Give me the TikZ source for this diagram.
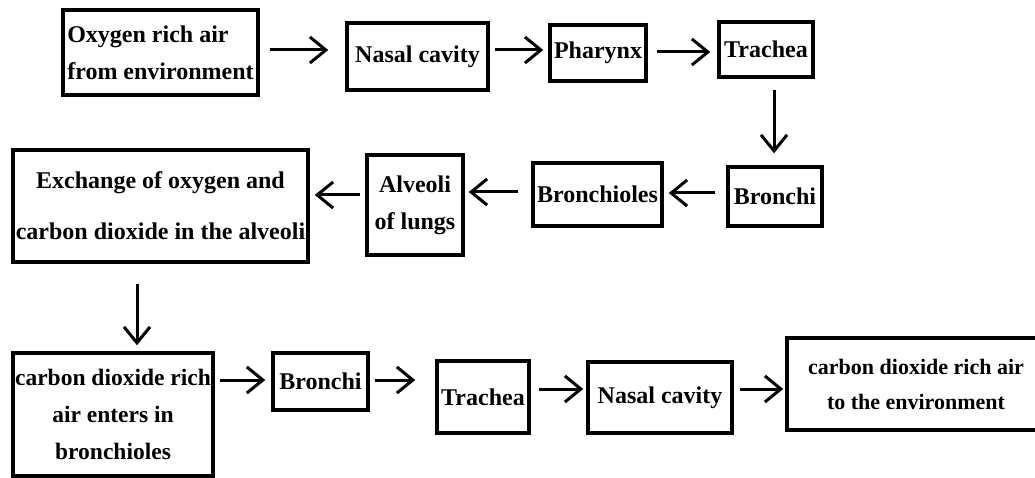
\documentclass[tikz,border=0pt]{standalone}
\usepackage{fontspec}
\setmainfont{Liberation Serif}
\usetikzlibrary{arrows.meta}
\begin{document}
\begin{tikzpicture}[x=1pt,y=-1pt,
  stage/.style={draw=black, line width=3.5pt, fill=white, inner sep=0pt,
    font=\bfseries\fontsize{24}{37}\selectfont, align=center},
  flow/.style={line width=3pt, -{Straight Barb[length=16pt,width=26pt,line width=3pt]}}]
\useasboundingbox (0,0) rectangle (1035,478);
\clip (0,0) rectangle (1035,478);
\fill[white] (0,0) rectangle (1035,478);

% inhalation path, top row
\node[stage, align=left, minimum width=195pt, minimum height=85pt] (air) at (160.5,52.5)
  {Oxygen rich air\\from environment};
\node[stage, minimum width=141pt, minimum height=67pt] (nasal) at (417.5,56.5) {Nasal cavity};
\node[stage, minimum width=96pt, minimum height=56pt] (phar) at (598,53) {Pharynx};
\node[stage, minimum width=94pt, minimum height=55pt] (trach) at (766,49.5) {Trachea};

% middle row, right to left
\node[stage, minimum width=94pt, minimum height=59pt] (bron) at (775,196.5) {Bronchi};
\node[stage, minimum width=129pt, minimum height=63pt] (bronl) at (597.5,194.5) {Bronchioles};
\node[stage, minimum width=96pt, minimum height=100pt] (alv) at (415,205) {Alveoli\\of lungs};
\node[stage, font=\bfseries\fontsize{24}{51}\selectfont, minimum width=295pt, minimum height=112pt]
  (exch) at (160.5,206) {Exchange of oxygen and\\carbon dioxide in the alveoli};

% exhalation path, bottom row
\node[stage, font=\bfseries\fontsize{23.5}{37}\selectfont, minimum width=200pt, minimum height=123pt]
  (co2in) at (113,414.5) {carbon dioxide rich\\air enters in\\bronchioles};
\node[stage, minimum width=95pt, minimum height=57pt] (bron2) at (320.5,381.5) {Bronchi};
\node[stage, minimum width=92pt, minimum height=72pt] (trach2) at (483,397) {Trachea};
\node[stage, minimum width=144pt, minimum height=71pt] (nasal2) at (660,397.5) {Nasal cavity};
\node[stage, font=\bfseries\fontsize{22}{35}\selectfont, minimum width=258pt, minimum height=92pt]
  (out) at (916,384) {carbon dioxide rich air\\to the environment};

% connectors
\draw[flow, shorten <=10pt, shorten >=17pt] (air.east |- 0,50) -- (nasal.west |- 0,50);
\draw[flow, shorten <=5pt, shorten >=5pt] (nasal.east |- 0,50) -- (phar.west |- 0,50);
\draw[flow, shorten <=9pt, shorten >=7pt] (phar.east |- 0,52) -- (trach.west |- 0,52);
\draw[flow, shorten <=11pt, shorten >=12pt] (trach.south -| 774,0) -- (bron.north -| 774,0);
\draw[flow, shorten <=11pt, shorten >=5pt] (bron.west |- 0,193) -- (bronl.east |- 0,193);
\draw[flow, shorten <=13pt, shorten >=4pt] (bronl.west |- 0,192) -- (alv.east |- 0,192);
\draw[flow, shorten <=5pt, shorten >=5pt] (alv.west |- 0,195) -- (exch.east |- 0,195);
\draw[flow, shorten <=20pt, shorten >=6pt] (exch.south -| 137,0) -- (co2in.north -| 137,0);
\draw[flow, shorten <=5pt, shorten >=6pt] (co2in.east |- 0,380) -- (bron2.west |- 0,380);
\draw[flow, shorten <=5pt, shorten >=20pt] (bron2.east |- 0,380) -- (trach2.west |- 0,380);
\draw[flow, shorten <=8pt, shorten >=3pt] (trach2.east |- 0,389) -- (nasal2.west |- 0,389);
\draw[flow, shorten <=6pt, shorten >=2pt] (nasal2.east |- 0,389) -- (out.west |- 0,389);
\end{tikzpicture}
\end{document}
